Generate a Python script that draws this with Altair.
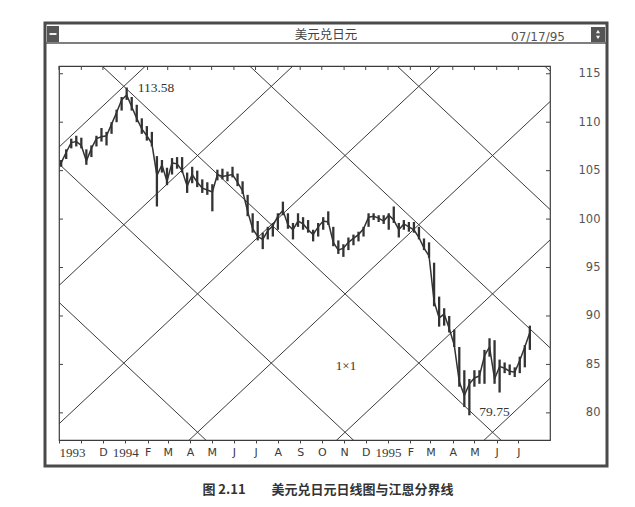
import altair as alt
import pandas as pd

# ---------------- data ----------------
week_start = "1993-10-04"   # weekly bars, Mondays, up to 1995-07-17
highs = [106.1, 107.2, 108.3, 108.6, 108.4, 107.2, 107.6, 108.6, 109.4, 109.0,
         110.0, 111.3, 112.6, 113.58, 112.6, 111.8, 110.4, 109.6, 109.0, 106.5,
         106.1, 105.3, 106.3, 106.4, 106.4, 104.8, 105.4, 105.0, 104.1, 103.8,
         103.6, 105.1, 105.2, 104.9, 105.4, 104.7, 103.9, 102.5, 100.6, 99.8,
         98.6, 99.2, 99.6, 100.6, 101.8, 100.6, 99.6, 100.6, 100.2, 99.9,
         98.9, 99.6, 100.2, 100.8, 99.2, 97.8, 97.4, 98.1, 98.4, 98.7,
         99.2, 100.6, 100.6, 100.4, 100.4, 100.6, 101.3, 99.6, 99.9, 99.7,
         99.7, 99.2, 98.0, 97.6, 95.5, 92.0, 90.8, 90.0, 88.6, 86.8,
         84.4, 83.5, 84.4, 84.4, 86.5, 87.7, 87.5, 85.5, 85.2, 85.0,
         84.7, 85.8, 87.0, 89.0]
lows = [105.4, 106.2, 107.3, 107.5, 107.3, 105.6, 106.4, 107.5, 108.0, 107.6,
        108.8, 110.0, 111.2, 112.3, 111.2, 110.0, 108.8, 108.1, 107.5, 101.3,
        104.8, 103.5, 104.6, 105.2, 104.8, 102.7, 103.7, 103.3, 102.7, 102.5,
        100.8, 104.0, 104.1, 103.9, 104.3, 103.4, 102.6, 100.3, 98.6, 97.8,
        96.9, 97.9, 98.2, 98.9, 100.4, 99.0, 97.9, 99.2, 98.9, 98.6,
        97.7, 98.2, 98.9, 99.4, 97.2, 96.4, 96.1, 96.8, 97.3, 97.7,
        98.2, 99.2, 99.9, 99.7, 99.5, 98.9, 99.6, 98.1, 98.9, 98.7,
        98.6, 97.9, 96.8, 96.0, 91.0, 88.9, 89.0, 88.3, 86.8, 82.7,
        80.6, 79.75, 82.7, 83.0, 83.0, 85.8, 83.0, 82.1, 84.1, 83.9,
        83.7, 84.1, 84.7, 86.5]
closes = [105.8, 106.9, 107.9, 108.0, 107.6, 106.0, 107.3, 108.3, 108.5, 108.6,
          109.8, 111.0, 112.3, 112.8, 111.6, 110.4, 109.3, 108.6, 107.8, 104.5,
          105.6, 103.9, 105.8, 105.7, 105.0, 103.4, 104.6, 103.8, 103.2, 103.0,
          102.8, 104.6, 104.4, 104.5, 104.6, 103.8, 102.9, 100.8, 99.0, 98.2,
          97.9, 98.8, 99.3, 100.3, 100.9, 99.4, 98.9, 99.8, 99.5, 98.9,
          98.4, 99.2, 99.8, 99.7, 97.6, 96.8, 97.0, 97.6, 98.0, 98.4,
          99.0, 100.2, 100.3, 100.1, 99.8, 100.4, 99.9, 98.9, 99.5, 99.2,
          98.9, 98.1, 97.0, 96.2, 91.5, 89.8, 90.2, 88.7, 87.0, 83.2,
          81.8, 83.0, 83.6, 83.8, 85.9, 86.8, 83.5, 84.8, 84.6, 84.3,
          84.2, 85.4, 86.8, 88.3]

y_ticks = [80, 85, 90, 95, 100, 105, 110, 115]
month_ticks = ([(1993, 10), (1993, 11), (1993, 12)]
               + [(1994, m) for m in range(1, 13)]
               + [(1995, m) for m in range(1, 8)])

# Gann 1x1 grid (anchored at the top, read from the crossings)
gann_anchor_date = "1993-12-30"
gann_anchor_price = 113.7
gann_slope_per_day = 0.0697
gann_spacing = 14.28
up_offsets = [0, -1, -2, -3, -4, -5]
down_offsets = [-3, -2, -1, 0, 1, 2, 3]

x_start = pd.Timestamp("1993-10-01")
x_end = pd.Timestamp("1995-08-14")

# ---------------- tables ----------------
dates = pd.date_range(week_start, periods=len(highs), freq="7D")
bars = pd.DataFrame({"date": dates, "high": highs, "low": lows, "close": closes})

t0 = pd.Timestamp(gann_anchor_date)
rows = []
for k in up_offsets:
    for t in (x_start, x_end):
        d = (t - t0).days
        rows.append({"line": f"u{k}", "date": t,
                     "price": gann_anchor_price + gann_slope_per_day * d + k * gann_spacing})
for k in down_offsets:
    for t in (x_start, x_end):
        d = (t - t0).days
        rows.append({"line": f"d{k}", "date": t,
                     "price": gann_anchor_price - gann_slope_per_day * d + k * gann_spacing})
gann = pd.DataFrame(rows)

months = pd.DataFrame({"date": [pd.Timestamp(year=y, month=m, day=1) for y, m in month_ticks]})
yt = pd.DataFrame({"price": y_ticks})

i_hi = highs.index(max(highs))
i_lo = lows.index(min(lows))
peak = pd.DataFrame({"date": [dates[i_hi]], "price": [max(highs)], "txt": [f"{max(highs):.2f}"]})
trough = pd.DataFrame({"date": [dates[i_lo]], "price": [min(lows)], "txt": [f"{min(lows):.2f}"]})

# ---------------- scales / axes ----------------
x_scale = alt.Scale(domain=[alt.DateTime(year=1993, month=10, date=1),
                            alt.DateTime(year=1995, month=8, date=14)])
y_scale = alt.Scale(domain=[77.2, 115.8], nice=False, zero=False)

year_test = "month(datum.value)==0 || (year(datum.value)==1993 && month(datum.value)==9)"
x_axis = alt.Axis(
    values=[alt.DateTime(year=y, month=m, date=1) for y, m in month_ticks],
    labelExpr=("year(datum.value)==1993 && month(datum.value)==9 ? '1993' : "
               "(year(datum.value)==1993 && month(datum.value)==10 ? '' : "
               "(month(datum.value)==0 ? timeFormat(datum.value, '%Y') : "
               "substring('JFMAMJJASOND', month(datum.value), month(datum.value)+1)))"),
    labelFont={"condition": {"test": year_test, "value": "Liberation Serif"}, "value": "DejaVu Sans"},
    labelFontSize={"condition": {"test": year_test, "value": 13}, "value": 11},
    labelColor="#3a3a3a", labelFlush=True, labelOverlap=False, labelPadding=3,
    tickSize=3, tickColor="#444", domain=False, grid=False, title=None,
)
y_axis = alt.Axis(
    orient="right", values=y_ticks, labelAlign="right", labelPadding=50,
    ticks=False, tickSize=0, domain=False, grid=False, title=None,
    labelFont="DejaVu Sans", labelFontSize=11.5, labelColor="#555",
)

X = alt.X("date:T", scale=x_scale, axis=x_axis)
INK = "#333333"

gann_layer = alt.Chart(gann).mark_line(clip=True, color="#3a3a3a", strokeWidth=1).encode(
    x=X, y=alt.Y("price:Q", scale=y_scale, axis=y_axis), detail="line:N")

range_layer = alt.Chart(bars).mark_rule(color=INK, strokeWidth=2.3).encode(
    x=X, y=alt.Y("low:Q", scale=y_scale, axis=y_axis), y2="high:Q")

close_layer = alt.Chart(bars).mark_line(color=INK, strokeWidth=1.5).encode(
    x=X, y=alt.Y("close:Q", scale=y_scale, axis=y_axis))

top_ticks = alt.Chart(months).mark_rule(color="#444", strokeWidth=1).encode(
    x=X, y=alt.value(0), y2=alt.value(4))
left_ticks = alt.Chart(yt).mark_rule(color="#444", strokeWidth=1).encode(
    y=alt.Y("price:Q", scale=y_scale, axis=y_axis), x=alt.value(0), x2=alt.value(4))
right_ticks = alt.Chart(yt).mark_rule(color="#444", strokeWidth=1).encode(
    y=alt.Y("price:Q", scale=y_scale, axis=y_axis), x=alt.value(487), x2=alt.value(491))

peak_text = alt.Chart(peak).mark_text(align="left", baseline="middle", dx=11, dy=0,
                                      font="Liberation Serif", fontSize=13.5, color="#333").encode(
    x=X, y=alt.Y("price:Q", scale=y_scale, axis=y_axis), text="txt:N")
trough_text = alt.Chart(trough).mark_text(align="left", baseline="middle", dx=10, dy=-3,
                                          font="Liberation Serif", fontSize=13.5, color="#333").encode(
    x=X, y=alt.Y("price:Q", scale=y_scale, axis=y_axis), text="txt:N")

one = pd.DataFrame({"a": [0]})
base = alt.Chart(one)

ratio_text = base.mark_text(text="1×1", font="Liberation Serif", fontSize=13, color="#333",
                            align="center", baseline="middle").encode(x=alt.value(287), y=alt.value(300))

window = base.mark_rect(fillOpacity=0, stroke="#4a4a4a", strokeWidth=3).encode(
    x=alt.value(-14), x2=alt.value(548), y=alt.value(-43), y2=alt.value(400))
title_line = base.mark_rule(color="#555", strokeWidth=1.5).encode(
    x=alt.value(-14), x2=alt.value(548), y=alt.value(-23))
left_icon = base.mark_rect(color="#555").encode(
    x=alt.value(-12), x2=alt.value(0), y=alt.value(-40), y2=alt.value(-24))
left_icon_bar = base.mark_rect(color="#eeeeee").encode(
    x=alt.value(-9.5), x2=alt.value(-2.5), y=alt.value(-33), y2=alt.value(-31))
right_icon = base.mark_rect(color="#555").encode(
    x=alt.value(532), x2=alt.value(546), y=alt.value(-39), y2=alt.value(-24))
arrow_up = base.mark_point(shape="triangle-up", filled=True, color="#f4f4f4", size=16, opacity=1).encode(
    x=alt.value(539), y=alt.value(-34.5))
arrow_dn = base.mark_point(shape="triangle-down", filled=True, color="#f4f4f4", size=16, opacity=1).encode(
    x=alt.value(539), y=alt.value(-28.5))

title_text = base.mark_text(text="美元兑日元", font="Noto Sans CJK SC", fontSize=12.5, color="#444",
                            align="center", baseline="middle").encode(x=alt.value(267), y=alt.value(-31))
date_text = base.mark_text(text="07/17/95", font="DejaVu Sans", fontSize=12, color="#555",
                           align="center", baseline="middle").encode(x=alt.value(479), y=alt.value(-29.5))
caption = base.mark_text(text="图 2.11\u2003\u2003美元兑日元日线图与江恩分界线", font="Noto Sans CJK SC",
                         fontSize=13, fontWeight="bold", color="#333",
                         align="center", baseline="middle").encode(x=alt.value(269), y=alt.value(424))

chart = alt.layer(
    gann_layer, range_layer, close_layer, top_ticks, left_ticks, right_ticks,
    peak_text, trough_text, ratio_text,
    window, title_line, left_icon, left_icon_bar, right_icon, arrow_up, arrow_dn,
    title_text, date_text, caption,
).properties(
    width=491, height=374,
    padding={"left": 51, "top": 58, "right": 77, "bottom": 58},
    autosize=alt.AutoSizeParams(type="none"),
    background="white",
).configure_view(stroke="#3c3c3c", strokeWidth=1.2)

chart.save("out.html", embed_options={"renderer": "svg", "actions": False})
